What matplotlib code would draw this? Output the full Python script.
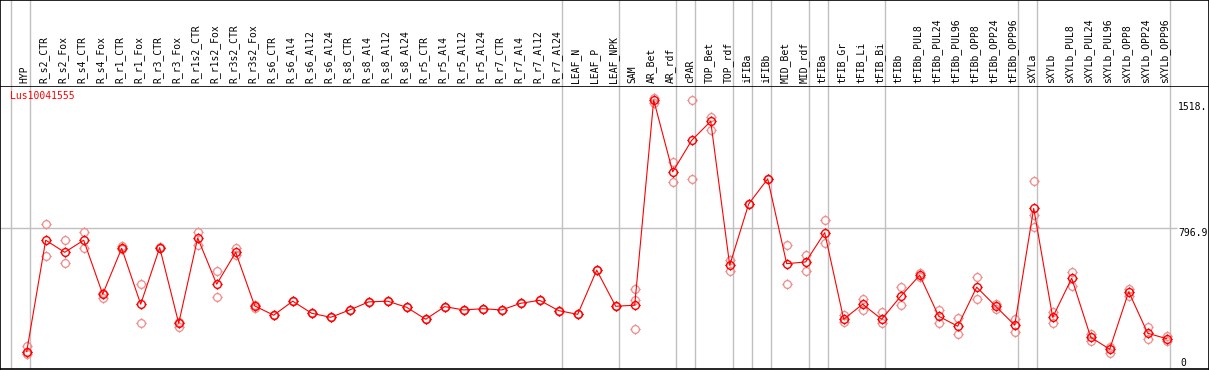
import numpy as np
import matplotlib.pyplot as plt
from matplotlib.path import Path

samples = ["HYP", "R_s2_CTR", "R_s2_Fox", "R_s4_CTR", "R_s4_Fox", "R_r1_CTR", "R_r1_Fox",
           "R_r3_CTR", "R_r3_Fox", "R_r1s2_CTR", "R_r1s2_Fox", "R_r3s2_CTR", "R_r3s2_Fox",
           "R_s6_CTR", "R_s6_Al4", "R_s6_Al12", "R_s6_Al24", "R_s8_CTR", "R_s8_Al4", "R_s8_Al12",
           "R_s8_Al24", "R_r5_CTR", "R_r5_Al4", "R_r5_Al12", "R_r5_Al24", "R_r7_CTR", "R_r7_Al4",
           "R_r7_Al12", "R_r7_Al24", "LEAF_N", "LEAF_P", "LEAF_NPK", "SAM", "AR_Bet", "AR_rdf",
           "cPAR", "TOP_Bet", "TOP_rdf", "iFIBa", "iFIBb", "MID_Bet", "MID_rdf", "tFIBa",
           "tFIB_Gr", "tFIB_Li", "tFIB_Bi", "tFIBb", "tFIBb_PUL8", "tFIBb_PUL24", "tFIBb_PUL96",
           "tFIBb_OPP8", "tFIBb_OPP24", "tFIBb_OPP96", "sXYLa", "sXYLb", "sXYLb_PUL8",
           "sXYLb_PUL24", "sXYLb_PUL96", "sXYLb_OPP8", "sXYLb_OPP24", "sXYLb_OPP96"]

means = [93, 729, 660, 729, 421, 683, 364, 687, 255, 742, 478, 660, 354,
         301, 381, 312, 289, 331, 377, 381, 346, 278, 350, 331, 338, 331, 369, 386, 327,
         306, 558, 352, 358, 1529, 1119, 1299, 1408, 586, 936, 1079, 595, 605, 772,
         278, 364, 278, 409, 529, 295, 238, 461, 352, 244, 911, 289, 512, 175, 107,
         435, 198, 167]

rep_a = [126, 820, 729, 774, 430, 696, 478, 692, 264, 774, 552, 683, 360,
         301, 381, 312, 289, 331, 377, 381, 346, 278, 350, 331, 338, 331, 369, 386, 327,
         306, 558, 352, 449, 1539, 1174, 1529, 1432, 616, 936, 1079, 700, 645, 845,
         302, 394, 318, 461, 540, 331, 284, 518, 365, 280, 1065, 321, 548, 194, 122,
         451, 232, 183]

rep_b = [80, 637, 597, 683, 398, 677, 255, 683, 236, 702, 407, 645, 344,
         301, 381, 312, 289, 331, 377, 381, 346, 278, 350, 331, 338, 331, 369, 386, 327,
         306, 558, 352, 221, 1511, 1060, 1077, 1358, 555, 936, 1079, 478, 555, 712,
         264, 331, 259, 358, 518, 259, 192, 395, 335, 204, 806, 259, 470, 156, 87,
         411, 164, 152]

# third replicate only where one is visible
rep_c = [93] + [np.nan] * 31 + [388] + [np.nan] * 20 + [873] + [np.nan] * 7

# separators drawn after these column indices
group_ends = [-1, 0, 28, 31, 34, 35, 37, 38, 39, 41, 42, 45, 52, 53, 60]

mono = "DejaVu Sans Mono"
grey = "#c0c0c0"
x = np.arange(len(samples))
x0, x1 = -26.7 / 19, (1209 - 26.7) / 19

# circle with four small ticks
sun = Path.make_compound_path(
    Path.unit_circle(),
    Path([(0, 1), (0, 1.35)]), Path([(0, -1), (0, -1.35)]),
    Path([(1, 0), (1.35, 0)]), Path([(-1, 0), (-1.35, 0)]))

fig = plt.figure(figsize=(12.09, 3.70), dpi=100)
ax = fig.add_axes([0, 1 / 370, 1, 283 / 370])
hdr = fig.add_axes([0, 284 / 370, 1, 86 / 370])

for a in (ax, hdr):
    a.set_xlim(x0, x1)
    a.set_xticks([])
    a.set_yticks([])
    for j in group_ends:
        a.axvline(j + 0.19, color=grey, lw=1, zorder=0)
    for s in a.spines.values():
        s.set_color("black")
        s.set_linewidth(1.2)
hdr.spines["bottom"].set_visible(False)
hdr.set_ylim(0, 1)

ax.set_ylim(-6, 1609)
ax.hlines(796.9, x0, 60.55, color=grey, lw=1, zorder=0)

for reps in (rep_a, rep_b, rep_c):
    ax.plot(x, reps, ls="none", marker=sun, ms=7.5, mfc="none", mec="#f08c8c", mew=0.9, zorder=2)
ax.plot(x, means, color="red", lw=0.8, marker=sun, ms=7.5, mfc="none", mec="red", mew=1.0, zorder=3)

for i, name in enumerate(samples):
    hdr.text(i - 0.1, 0.03, name, rotation=90, ha="center", va="bottom", fontsize=7, family=mono)

ax.text(10 / 1209, 0.963, "Lus10041555", color="red", fontsize=7, family=mono,
        transform=ax.transAxes, ha="left", va="center")
ax.text(60.6, 1518, "1518.", fontsize=7, family=mono, ha="left", va="top")
ax.text(60.6, 796.9, "796.9", fontsize=7, family=mono, ha="left", va="top")
ax.text(60.7, 0, "0", fontsize=7, family=mono, ha="left", va="bottom")

fig.savefig("out.png", dpi=100)
